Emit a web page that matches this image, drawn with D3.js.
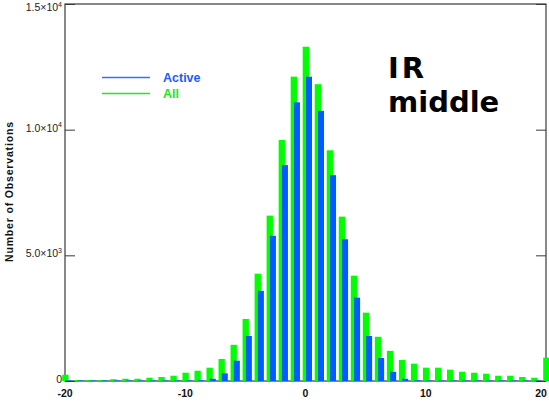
<!DOCTYPE html>
<html>
<head>
<meta charset="utf-8">
<script src="https://cdn.jsdelivr.net/npm/d3@7"></script>
<style>
  html, body { margin: 0; padding: 0; background: white; }
  svg { display: block; }
  text { font-family: "Liberation Sans", Arial, sans-serif; }
</style>
</head>
<body>
<svg></svg>
<script>
// colours
const GREEN = '#00ff00';
const BLUE = '#005cff';

// data: one bin per integer from -20 to 20
const bins = [-20, -19, -18, -17, -16, -15, -14, -13, -12, -11, -10,
  -9, -8, -7, -6, -5, -4, -3, -2, -1, 0, 1, 2, 3, 4, 5, 6, 7, 8, 9,
  10, 11, 12, 13, 14, 15, 16, 17, 18, 19, 20];

const allObs = [250, 40, 40, 40, 70, 90, 90, 130, 160, 210, 330,
  410, 530, 875, 1440, 2470, 4270, 6580, 9590, 12110, 13300, 11810, 9180, 6540, 4190, 2720, 1760, 1200, 835, 690,
  530, 530, 450, 370, 330, 290, 210, 210, 160, 130, 930];

const activeObs = [20, 20, 20, 20, 20, 20, 20, 20, 20, 20, 20,
  30, 90, 305, 810, 1790, 3590, 5780, 8590, 11090, 12110, 10750, 8190, 5640, 3320, 1790, 915, 370, 90, 30,
  20, 20, 20, 20, 20, 20, 20, 20, 20, 20, 20];

const xTicks = [-20, -10, 0, 10, 20];
const yTicks = [0, 5000, 10000, 15000];
const yTickLabels = ["0", "5.0×10^3", "1.0×10^4", "1.5×10^4"];

const legendItems = [
  { name: "Active", line: '#2f72ff', text: '#1a60f5' },
  { name: "All", line: '#22e822', text: '#1ee61e' }
];

// svg
const width = 549;
const height = 404;
const plotLeft = 65, plotRight = 546, plotTop = 4, plotBottom = 381;

const svg = d3.select("svg")
  .attr("width", width)
  .attr("height", height);

const x = d3.scaleLinear().domain([-20, 20]).range([plotLeft, plotRight]);
const y = d3.scaleLinear().domain([0, 15000]).range([plotBottom, plotTop]);

// frame
svg.append("rect")
  .attr("x", plotLeft).attr("y", plotTop)
  .attr("width", plotRight - plotLeft).attr("height", plotBottom - plotTop)
  .attr("fill", "none")
  .attr("stroke", "#3a3a3a")
  .attr("stroke-width", 1.2);

// y ticks on both sides (inward)
svg.append("g")
  .attr("transform", `translate(${plotLeft},0)`)
  .call(d3.axisLeft(y).tickValues(yTicks).tickSize(-10).tickFormat(""))
  .call(g => g.select(".domain").remove())
  .call(g => g.selectAll("line").attr("stroke", "#3a3a3a"));

svg.append("g")
  .attr("transform", `translate(${plotRight},0)`)
  .call(d3.axisRight(y).tickValues(yTicks).tickSize(-10).tickFormat(""))
  .call(g => g.select(".domain").remove())
  .call(g => g.selectAll("line").attr("stroke", "#3a3a3a"));

// bars: All (green) behind, Active (blue) shifted right
svg.selectAll(".all")
  .data(bins)
  .enter().append("rect")
  .attr("class", "all")
  .attr("x", (d, i) => x(d) - 2.8)
  .attr("y", (d, i) => y(allObs[i]))
  .attr("width", 6.3)
  .attr("height", (d, i) => y(0) - y(allObs[i]))
  .attr("fill", GREEN);

svg.selectAll(".active")
  .data(bins)
  .enter().append("rect")
  .attr("class", "active")
  .attr("x", (d, i) => x(d) + 0.5)
  .attr("y", (d, i) => y(activeObs[i]))
  .attr("width", 6)
  .attr("height", (d, i) => y(0) - y(activeObs[i]))
  .attr("fill", BLUE);

// y tick labels with superscript
const yLab = svg.selectAll(".ylab")
  .data(yTicks)
  .enter().append("text")
  .attr("class", "ylab")
  .attr("x", plotLeft - 3)
  .attr("y", d => Math.max(y(d), 9) + 2)
  .attr("text-anchor", "end")
  .attr("font-size", 10.5)
  .attr("fill", "#222");

yLab.each(function(d, i) {
  const parts = yTickLabels[i].split("^");
  const t = d3.select(this);
  t.append("tspan").text(parts[0]);
  if (parts[1]) {
    t.append("tspan").attr("font-size", 7).attr("dy", -4.5).text(parts[1]);
  }
});

// x tick labels
svg.selectAll(".xlab")
  .data(xTicks)
  .enter().append("text")
  .attr("class", "xlab")
  .attr("x", d => Math.min(x(d), width - 8))
  .attr("y", plotBottom + 16)
  .attr("text-anchor", "middle")
  .attr("font-size", 10.5)
  .attr("font-weight", "bold")
  .attr("fill", "#111")
  .text(d => d);

// y axis title
svg.append("text")
  .attr("transform", "translate(13,192) rotate(-90)")
  .attr("text-anchor", "middle")
  .attr("font-size", 10.5)
  .attr("font-weight", "bold")
  .attr("textLength", 140)
  .attr("lengthAdjust", "spacing")
  .attr("fill", "#111")
  .text("Number of Observations");

// legend
const legend = svg.selectAll(".legend")
  .data(legendItems)
  .enter().append("g")
  .attr("class", "legend")
  .attr("transform", (d, i) => `translate(0,${77 + i * 16})`);

legend.append("line")
  .attr("x1", 102).attr("x2", 150)
  .attr("y1", 0.5).attr("y2", 0.5)
  .style("stroke", d => d.line)
  .style("stroke-width", 1.6);

legend.append("text")
  .attr("x", 163)
  .attr("y", 5)
  .attr("font-size", 12.5)
  .attr("font-weight", "bold")
  .attr("fill", d => d.text)
  .text(d => d.name);

// annotation
const note = svg.append("text")
  .style("font-family", "'DejaVu Sans', sans-serif")
  .attr("font-weight", "bold")
  .attr("font-size", 29)
  .attr("fill", "black");
note.append("tspan").attr("x", 388).attr("y", 78).attr("letter-spacing", 3).text("IR");
note.append("tspan").attr("x", 388).attr("y", 112).text("middle");
</script>
</body>
</html>
